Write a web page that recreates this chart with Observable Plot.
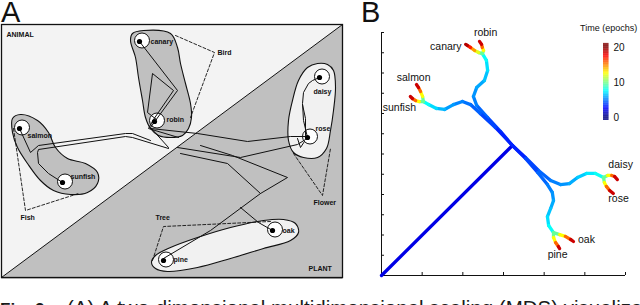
<!DOCTYPE html>
<html><head><meta charset="utf-8">
<script src="https://cdn.jsdelivr.net/npm/d3@7"></script>
<script src="https://cdn.jsdelivr.net/npm/@observablehq/plot@0.6"></script>
<style>
body{margin:0;background:#fff;}
#wrap{position:relative;width:640px;height:305px;overflow:hidden;font-family:"Liberation Sans",Arial,sans-serif;color:#111;}
.abs{position:absolute;}
.panel-label{font-size:29px;line-height:29px;}
#caption{left:0;top:297px;font-size:20.5px;line-height:21px;white-space:nowrap;color:#1a1a1a;}
#caption .fig{display:inline-block;width:67px;font-size:17px;font-weight:bold;}
#cbtitle{left:580px;top:24px;font-size:9px;line-height:9px;white-space:nowrap;}
</style></head>
<body><div id="wrap">
<div class="abs panel-label" style="left:1px;top:-2px">A</div>
<div class="abs panel-label" style="left:361px;top:-2px">B</div>
<div id="cbtitle" class="abs">Time (epochs)</div>
<div id="caption" class="abs"><span class="fig">Fig. 2.</span>(A) A two-dimensional multidimensional scaling (MDS) visualization of</div>
</div>
<script>
// ---------- Panel A (diagram coordinates) ----------
const regionAnimal = [[1,24],[342,24],[1,277]];
const regionPlant = [[1,277],[342,24],[342,277]];
const blobBird = [[132,33],[143,30],[170,33],[177,47],[180,63],[185,83],[190,103],[191,117],[188,128],[182,135],[170,137],[158,135],[150,128],[145,117],[142,100],[138,77],[135,57],[130,40]];
const blobFish = [[12,118],[20,114],[37,120],[48,132],[55,147],[67,158],[85,163],[97,172],[97,183],[87,192],[70,194],[53,190],[40,180],[27,163],[17,147],[12,132]];
const blobFlower = [[317,63],[327,64],[333,70],[335,87],[333,110],[330,130],[326,148],[317,157],[303,157],[293,152],[288,140],[288,120],[292,100],[298,80],[307,67]];
const blobTree = [[151,262],[155,268],[167,271],[197,267],[230,258],[263,248],[290,240],[298,232],[295,223],[283,219],[263,220],[230,227],[197,237],[170,247],[155,255]];
const itemNamesA = ["canary","robin","salmon","sunfish","daisy","rose","oak","pine"];
const itemXA = [139,154,19,62,319,307,272,163];
const itemYA = [41,121,128,182,77,137,230,260];
const labelXA = [150,166,27,70,313,315,282,173];
const labelYA = [41,119,135,176,91,128,230,259];
const groupNamesA = ["ANIMAL","PLANT","Bird","Fish","Flower","Tree"];
const groupXA = [6,308,217,20,313,155];
const groupYA = [34,268,52,217,202,217];
const dashBird = [[175,35],[214,52],[190,117]];
const dashFish = [[13,128],[25,210],[78,193]];
const dashFlower = [[293,153],[322,195],[330,148]];
const dashTree = [[152,260],[163,226],[270,221]];
const trajA = [
  [[19,128],[30,152],[38,145],[125,133],[132,133],[150,140]],
  [[62,182],[48,173],[38,163],[37,152],[38,149],[125,136],[132,137],[168,148]],
  [[139,41],[177,90],[155,120],[150,127],[168,147]],
  [[156,119],[147,112],[152,73],[173,90],[153,119],[148,128],[178,137]],
  [[150,128],[197,133],[247,141],[290,136],[305,136]],
  [[177,147],[240,157],[297,144],[305,139]],
  [[200,145],[232,155],[287,177],[260,193],[210,230],[163,258]],
  [[180,153],[227,163],[260,193]],
  [[240,207],[258,222],[272,230]],
  [[307,137],[303,120],[302,103],[303,92],[308,83],[312,80],[319,77]],
  [[305,135],[305,118],[302,104]],
  [[297,138],[300,147],[304,141]]
];

// ---------- Panel B (MDS coordinates, time in epochs) ----------
const trunkB = [[0,0,1.2],[3.22,6.42,2.8]];
const birdB = [[3.22,6.42,2.8],[2.93,7.11,3.5],[2.61,7.80,4.2],[2.34,8.40,4.8],[2.26,8.84,5.2],[2.34,9.28,5.6],[2.53,9.63,6.0],[2.61,10.12,6.6],[2.58,10.62,7.2],[2.48,10.96,8]];
const canaryB = [[2.48,10.96,8],[2.39,11.01,11],[2.29,11.11,13],[2.19,11.26,16],[2.11,11.36,18],[2.07,11.41,20]];
const robinB = [[2.48,10.96,8],[2.51,11.11,11],[2.48,11.26,14],[2.46,11.41,17],[2.41,11.56,20]];
const fishB = [[3.22,6.42,2.8],[2.80,7.31,3.5],[2.43,8.00,4.2],[2.19,8.44,4.6],[1.99,8.59,4.9],[1.77,8.44,5.3],[1.55,8.20,5.8],[1.35,8.25,6.4],[1.16,8.44,7.2],[1.03,8.59,8]];
const salmonB = [[1.03,8.59,8],[1.01,8.84,11],[0.96,9.09,14],[0.91,9.28,17],[0.86,9.43,20]];
const sunfishB = [[1.03,8.59,8],[0.93,8.59,11],[0.84,8.64,14],[0.76,8.74,17],[0.71,8.84,20]];
const flowerB = [[3.22,6.42,2.8],[3.54,5.83,3.5],[3.86,5.19,4.2],[4.16,4.69,4.8],[4.40,4.49,5.2],[4.62,4.54,5.6],[4.82,4.84,6.2],[5.04,5.04,6.8],[5.26,5.04,7.4],[5.46,4.84,8]];
const daisyB = [[5.46,4.84,8],[5.56,4.94,11],[5.66,4.94,14],[5.73,4.89,17],[5.80,4.74,20]];
const roseB = [[5.46,4.84,8],[5.48,4.59,11],[5.53,4.40,14],[5.61,4.20,17],[5.70,4.05,20]];
const treeB = [[3.22,6.42,2.8],[3.54,5.78,3.5],[3.84,5.09,4.2],[4.08,4.49,4.8],[4.20,4.10,5.2],[4.23,3.70,5.6],[4.16,3.31,6.1],[4.08,2.91,6.6],[4.11,2.47,7.2],[4.23,2.12,8]];
const oakB = [[4.23,2.12,8],[4.38,2.02,11],[4.52,1.93,14],[4.65,1.78,17],[4.72,1.68,20]];
const pineB = [[4.23,2.12,8],[4.23,1.88,11],[4.28,1.63,14],[4.35,1.43,17],[4.38,1.33,20]];
const labelTextB = ["robin","canary","salmon","sunfish","daisy","rose","oak","pine"];
const labelXB = [2.56,1.97,0.79,0.44,5.88,5.83,5.04,4.33];
const labelYB = [12.0,11.31,9.78,8.30,5.48,3.80,1.78,1.04];
const labelAnchorB = ["middle","end","middle","middle","middle","middle","middle","middle"];
const xTicksB = [0,1,2,3,4,5,6];
const yTicksB = [0,1,2,3,4,5,6,7,8,9,10,11,12];
const timeTicks = [0,10,20];

// jet colormap
function jet(t){
  const c = v => Math.max(0, Math.min(1, v));
  const r = c(Math.min(4*t-1.5, -4*t+4.5));
  const g = c(Math.min(4*t-0.5, -4*t+3.5));
  const b = c(Math.min(4*t+0.5, -4*t+2.5));
  return d3.rgb(r*255, g*255, b*255).formatHex();
}
const colorScale = {type: "linear", domain: [0,20], interpolate: jet, clamp: true};

// ---------- Build panel A ----------
const P = d => ({x: d[0], y: d[1]});
const itemsA = itemNamesA.map((n,i)=>({name:n, x:itemXA[i], y:itemYA[i], lx:labelXA[i], ly:labelYA[i]}));
const groupsA = groupNamesA.map((n,i)=>({name:n, x:groupXA[i], y:groupYA[i]}));
const trajRows = trajA.flatMap((path,k)=>path.map(p=>({x:p[0], y:p[1], k})));
const dashRows = [dashBird,dashFish,dashFlower,dashTree].flatMap((path,k)=>path.map(p=>({x:p[0], y:p[1], k})));

const chartA = Plot.plot({
  width: 341, height: 253, margin: 0,
  x: {domain: [1,342], axis: null},
  y: {domain: [24,277], reverse: true, axis: null},
  style: {background: "transparent", overflow: "visible"},
  marks: [
    Plot.line(regionAnimal.map(P), {x:"x", y:"y", curve:"linear-closed", fill:"#f3f3f3", stroke:"none"}),
    Plot.line(regionPlant.map(P), {x:"x", y:"y", curve:"linear-closed", fill:"#c0c0c0", stroke:"#111", strokeWidth:1}),
    Plot.line(blobBird.map(P), {x:"x", y:"y", curve:"catmull-rom-closed", fill:"#c0c0c0", stroke:"#111", strokeWidth:1.1}),
    Plot.line(blobFish.map(P), {x:"x", y:"y", curve:"catmull-rom-closed", fill:"#c0c0c0", stroke:"#111", strokeWidth:1.1}),
    Plot.line(blobFlower.map(P), {x:"x", y:"y", curve:"catmull-rom-closed", fill:"#f1f1f1", stroke:"#111", strokeWidth:1.1}),
    Plot.line(blobTree.map(P), {x:"x", y:"y", curve:"catmull-rom-closed", fill:"#f1f1f1", stroke:"#111", strokeWidth:1.1}),
    Plot.line(dashRows, {x:"x", y:"y", z:"k", stroke:"#111", strokeWidth:0.9, strokeDasharray:"3,2"}),
    Plot.dot(itemsA, {x:"x", y:"y", r:7.5, dx:2.5, dy:-1, fill:"white", stroke:"#111", strokeWidth:1}),
    Plot.line(trajRows, {x:"x", y:"y", z:"k", stroke:"#111", strokeWidth:1}),
    Plot.dot(itemsA, {x:"x", y:"y", r:2.6, fill:"#000"}),
    Plot.text(itemsA, {x:"lx", y:"ly", text:"name", textAnchor:"start", fontSize:7, fontWeight:"bold", fill:"#111", fontFamily:"Liberation Sans, Arial, sans-serif"}),
    Plot.text(groupsA, {x:"x", y:"y", text:"name", textAnchor:"start", fontSize:7, fontWeight:"bold", fill:"#111", fontFamily:"Liberation Sans, Arial, sans-serif"}),
    Plot.frame({stroke:"#111", strokeWidth:1.3})
  ]
});
chartA.style.position = "absolute"; chartA.style.left = "1px"; chartA.style.top = "24px";
document.getElementById("wrap").appendChild(chartA);

// ---------- Build panel B ----------
const pathsB = [trunkB,birdB,canaryB,robinB,fishB,salmonB,sunfishB,flowerB,daisyB,roseB,treeB,oakB,pineB];
const segB = pathsB.flatMap(path => path.slice(1).map((p,i)=>({x1:path[i][0], y1:path[i][1], x2:p[0], y2:p[1], t:(path[i][2]+p[2])/2})));
const labelsB = labelTextB.map((s,i)=>({s, x:labelXB[i], y:labelYB[i], a:labelAnchorB[i]}));

const chartB = Plot.plot({
  width: 299, height: 285, marginLeft: 40, marginRight: 15, marginTop: 32, marginBottom: 10,
  x: {domain: [0,6]}, y: {domain: [0,12]},
  color: colorScale,
  style: {background: "transparent", overflow: "visible", fontFamily: "Liberation Sans, Arial, sans-serif"},
  marks: [
    Plot.axisX(xTicksB, {anchor:"bottom", tickSize:-3, tickFormat:()=>"", label:null, stroke:"#111"}),
    Plot.axisY(yTicksB, {anchor:"left", tickSize:-3, tickFormat:()=>"", label:null, stroke:"#111"}),
    Plot.ruleX([0], {stroke:"#111"}),
    Plot.ruleY([0], {stroke:"#111"}),
    Plot.link(segB, {x1:"x1", y1:"y1", x2:"x2", y2:"y2", stroke:"t", strokeWidth:3.3, strokeLinecap:"round"}),
    ...["middle","end"].map(a => Plot.text(labelsB.filter(d=>d.a===a), {x:"x", y:"y", text:"s", textAnchor:a, fontSize:10.5, fill:"#111"}))
  ]
});
chartB.style.position = "absolute"; chartB.style.left = "341px"; chartB.style.top = "0px";
document.getElementById("wrap").appendChild(chartB);

// ---------- Colour bar ----------
const cbSteps = d3.range(-0.85, 21.1, 0.2);
const chartC = Plot.plot({
  width: 45, height: 100, marginLeft: 8, marginRight: 31.5, marginTop: 17, marginBottom: 13,
  x: {domain: [0,1], axis: null}, y: {domain: [0,20]},
  color: colorScale,
  style: {background: "transparent", overflow: "visible", fontFamily: "Liberation Sans, Arial, sans-serif"},
  marks: [
    Plot.rect(cbSteps, {x1:0, x2:1, y1:d=>d, y2:d=>d+0.22, fill:d=>d}),
    Plot.axisY(timeTicks, {anchor:"right", tickSize:0, tickPadding:4.5, fontSize:10, label:null, fill:"#111"})
  ]
});
chartC.style.position = "absolute"; chartC.style.left = "595px"; chartC.style.top = "30px";
document.getElementById("wrap").appendChild(chartC);
</script>
</body></html>
